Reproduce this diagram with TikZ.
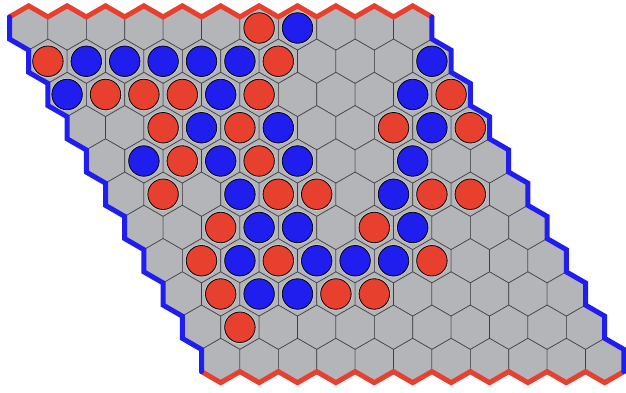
\documentclass[tikz,border=0pt]{standalone}
\usepackage{xcolor}
\usepackage{tikz}
\definecolor{redside}{RGB}{232,64,47}
\definecolor{blueside}{RGB}{32,30,238}
\definecolor{board}{RGB}{180,181,185}
\definecolor{rim}{RGB}{200,201,204}
\newcommand{\hs}{22.17pt}
\begin{document}
\begin{tikzpicture}[x=1pt,y=1pt,
  cell/.style={fill=board,draw=black!75,line width=0.6pt},
  rs/.style={circle,minimum size=30.5pt,inner sep=0pt,fill=redside,draw=black,line width=0.8pt,
             preaction={draw=rim,line width=2.6pt}},
  bs/.style={rs,fill=blueside},
  rb/.style={draw=redside,line width=5pt,line join=miter,line cap=round},
  bb/.style={draw=blueside,line width=5pt,line join=miter,line cap=round}]
  \useasboundingbox (0,0) rectangle (626,392);
  % cell centres
  \foreach \r in {0,...,10}
    \foreach \c in {0,...,10}
      \coordinate (c-\r-\c) at ({28.7+38.4*\c+19.2*\r},{364-33.25*\r});
  % board
  \foreach \r in {0,...,10}
    \foreach \c in {0,...,10}
      \draw[cell] ([shift={(30:\hs)}]c-\r-\c)
        \foreach \a in {90,150,...,330} { -- ([shift={(\a:\hs)}]c-\r-\c) } -- cycle;
  % sides
  \draw[rb] ([shift={(150:\hs)}]c-0-0)
    \foreach \c in {0,...,10} { -- ([shift={(90:\hs)}]c-0-\c) -- ([shift={(30:\hs)}]c-0-\c) };
  \draw[rb] ([shift={(210:\hs)}]c-10-0)
    \foreach \c in {0,...,10} { -- ([shift={(270:\hs)}]c-10-\c) -- ([shift={(330:\hs)}]c-10-\c) };
  \draw[bb] ([shift={(150:\hs)}]c-0-0)
    \foreach \r in {0,...,9} { -- ([shift={(210:\hs)}]c-\r-0) -- ([shift={(150:\hs)}]c-\the\numexpr\r+1\relax-0) }
    -- ([shift={(210:\hs)}]c-10-0);
  \draw[bb] ([shift={(30:\hs)}]c-0-10)
    \foreach \r in {0,...,9} { -- ([shift={(330:\hs)}]c-\r-10) -- ([shift={(30:\hs)}]c-\the\numexpr\r+1\relax-10) }
    -- ([shift={(330:\hs)}]c-10-10);
  % stones
  \foreach \r/\c in {0/6,1/0,1/6,2/1,2/2,2/3,2/5,2/10,3/2,3/4,3/8,3/10,4/2,4/4,
                     5/1,5/4,5/5,5/8,5/9,6/2,6/6,7/1,7/3,7/7,8/1,8/4,8/5,9/1}
    \node[rs] (s-\r-\c) at (c-\r-\c) {};
  \foreach \r/\c in {0/7,1/1,1/2,1/3,1/4,1/5,1/10,2/0,2/4,2/9,3/3,3/5,3/9,4/1,
                     4/3,4/5,4/8,5/3,5/7,6/3,6/4,6/7,7/2,7/4,7/5,7/6,8/2,8/3}
    \node[bs] (s-\r-\c) at (c-\r-\c) {};
\end{tikzpicture}
\end{document}
